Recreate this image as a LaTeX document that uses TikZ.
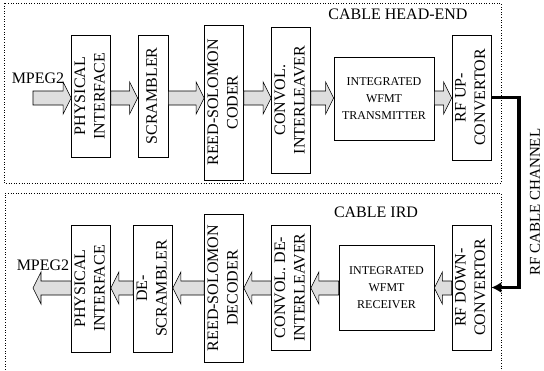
\documentclass[tikz,border=0pt]{standalone}
\usepackage{fontspec}
\setmainfont{Liberation Serif}
\usetikzlibrary{arrows.meta,calc}
\tikzset{
  blk/.style={draw, line width=0.7pt, fill=white, inner sep=0pt},
  region/.style={draw, line width=0.6pt, dotted},
  fatarr/.style={draw, line width=0.6pt, fill=black!13, line join=miter},
  chan/.style={line width=3.5pt, -{Latex[length=10pt,width=11pt]}},
  lbl/.style={inner sep=0pt, font=\fontsize{16}{18}\selectfont},
}
\newcommand\vtext[1]{\rotatebox{90}{\fontsize{16}{19.5}\selectfont\begin{tabular}{@{}c@{}}#1\end{tabular}}}
\newcommand\fatarrow[2]{%
  \path[fatarr] let \p1=#1, \p2=#2, \n1={sign(\x2-\x1)} in
    (\x1,\y1+7pt) -- (\x2-\n1*8pt,\y1+7pt) -- (\x2-\n1*8pt,\y1+16pt) -- (\x2,\y1)
    -- (\x2-\n1*8pt,\y1-16pt) -- (\x2-\n1*8pt,\y1-7pt) -- (\x1,\y1-7pt) -- cycle;}
\begin{document}
\begin{tikzpicture}[x=1pt,y=-1pt]
\useasboundingbox (0,0) rectangle (544,370);
% regions
\draw[region] (4,3) rectangle (501,183);
\draw[region] (5,372) -- (5,193) -- (501,193) -- (501,372);
\node[lbl] (hdr1) at (398,14) {CABLE HEAD-END};
\node[lbl] (hdr2) at (376,212) {CABLE IRD};
% row coordinates
\coordinate (r1) at (0,98);
\coordinate (r2) at (0,288);
\coordinate (in1) at (33,98);
\coordinate (out2) at (33,288);
\node[lbl] (mp1) at (38,78) {MPEG2};
\node[lbl] (mp2) at (43,265) {MPEG2};
% top blocks
\node[blk, minimum width=38pt, minimum height=122pt] (pi1) at (91,96) {\vtext{PHYSICAL\\INTERFACE}};
\node[blk, minimum width=30pt, minimum height=122pt] (sc1) at (153,96) {\vtext{SCRAMBLER}};
\node[blk, minimum width=38pt, minimum height=155pt] (rs1) at (224,102.5) {\vtext{REED-SOLOMON\\CODER}};
\node[blk, minimum width=38pt, minimum height=146pt] (ci1) at (291,100) {\vtext{CONVOL.\\INTERLEAVER}};
\node[blk, minimum width=100pt, minimum height=83pt, align=center, font=\fontsize{12}{16.7}\selectfont] (tx) at (384,98.5) {INTEGRATED\\WFMT\\TRANSMITTER};
\node[blk, minimum width=37pt, minimum height=125pt] (rfu) at (471.5,97.5) {\vtext{RF UP-\\CONVERTOR}};
% bottom blocks
\node[blk, minimum width=38pt, minimum height=127pt] (pi2) at (91,288.5) {\vtext{PHYSICAL\\INTERFACE}};
\node[blk, minimum width=30pt, minimum height=127pt] (ds) at (153,288.5) {\vtext{DE-\\SCRAMBLER}};
\node[blk, minimum width=38pt, minimum height=148pt] (rs2) at (224,288) {\vtext{REED-SOLOMON\\DECODER}};
\node[blk, minimum width=38pt, minimum height=125pt] (ci2) at (291,287.5) {\vtext{CONVOL. DE-\\INTERLEAVER}};
\node[blk, minimum width=95pt, minimum height=85pt, align=center, font=\fontsize{12}{16.7}\selectfont] (rx) at (386.5,287.5) {INTEGRATED\\WFMT\\RECEIVER};
\node[blk, minimum width=37pt, minimum height=125pt] (rfd) at (471.5,287.5) {\vtext{RF DOWN-\\CONVERTOR}};
% top arrows
\fatarrow{(in1)}{(pi1.west |- r1)}
\fatarrow{(pi1.east |- r1)}{(sc1.west |- r1)}
\fatarrow{(sc1.east |- r1)}{(rs1.west |- r1)}
\fatarrow{(rs1.east |- r1)}{(ci1.west |- r1)}
\fatarrow{(ci1.east |- r1)}{(tx.west |- r1)}
\fatarrow{(tx.east |- r1)}{(rfu.west |- r1)}
% bottom arrows
\fatarrow{(rfd.west |- r2)}{(rx.east |- r2)}
\fatarrow{(rx.west |- r2)}{(ci2.east |- r2)}
\fatarrow{(ci2.west |- r2)}{(rs2.east |- r2)}
\fatarrow{(rs2.west |- r2)}{(ds.east |- r2)}
\fatarrow{(ds.west |- r2)}{(pi2.east |- r2)}
\fatarrow{(pi2.west |- r2)}{(out2)}
% channel
\coordinate (chx) at (519,200);
\draw[chan] (rfu.east) -| (chx) |- (rfd.east);
\node[inner sep=0pt, rotate=90, font=\fontsize{15}{18}\selectfont] (chl) at (535,202) {RF CABLE CHANNEL};
\end{tikzpicture}
\end{document}
